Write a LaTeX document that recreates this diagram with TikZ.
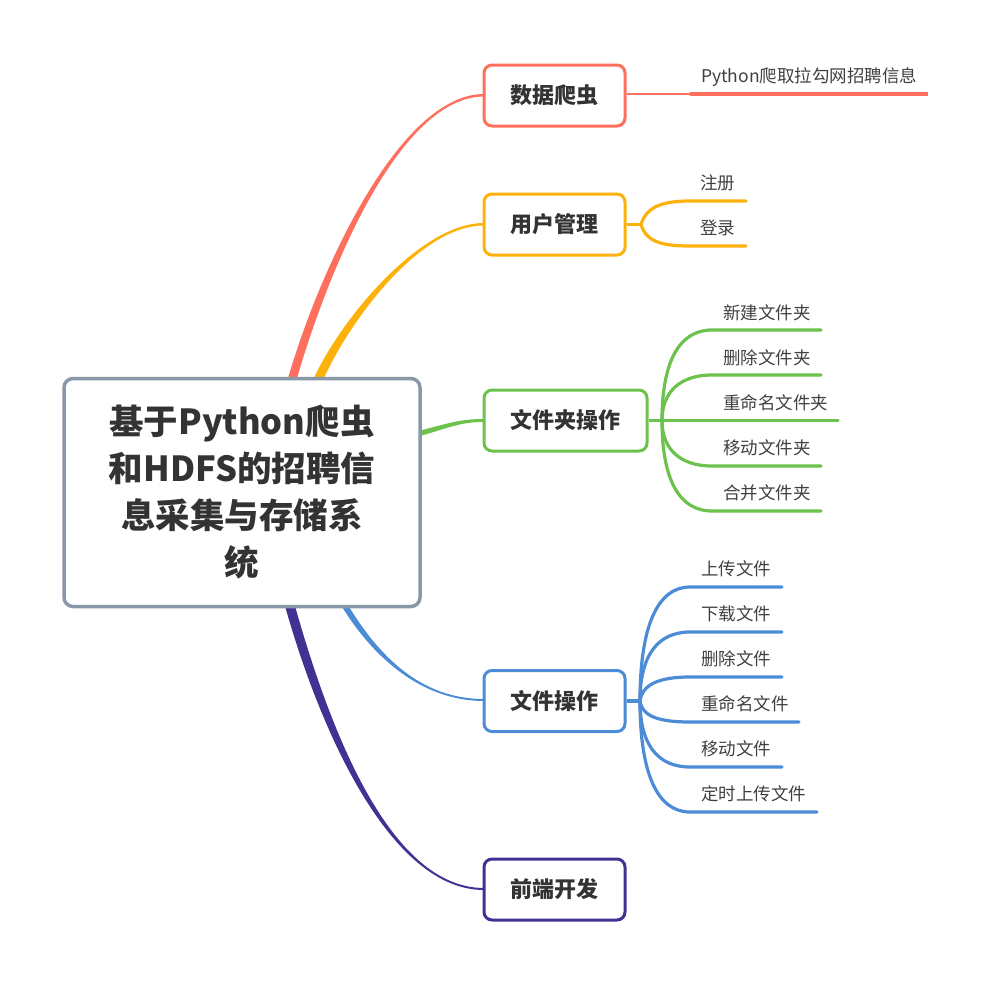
\documentclass[tikz,border=0pt]{standalone}
\usepackage{fontspec}
\setmainfont{Noto Sans CJK SC}
\definecolor{cred}{HTML}{FF6F5E}
\definecolor{corange}{HTML}{FDB20B}
\definecolor{cgreen}{HTML}{6CC24C}
\definecolor{cblue}{HTML}{4C8CD7}
\definecolor{cpurple}{HTML}{403292}
\definecolor{crootb}{HTML}{8A97A9}
\definecolor{ctext}{HTML}{333333}
\definecolor{cleaf}{HTML}{404040}
\begin{document}
\begin{tikzpicture}[x=1pt,y=-1pt,
  mainbox/.style={draw, line width=3pt, fill=white, rounded corners=8pt, minimum width=141pt, minimum height=61pt, inner sep=0pt, text=ctext, font=\fontsize{22}{26}\selectfont\bfseries},
  rootbox/.style={draw=crootb, line width=3.5pt, fill=white, rounded corners=9pt, minimum width=356pt, minimum height=228pt, inner sep=0pt, text=ctext, align=center, font=\fontsize{34.5}{47}\selectfont\bfseries},
  leaf/.style={anchor=west, inner sep=0pt, text=cleaf, font=\fontsize{17.5}{20}\selectfont},
  branch/.style={line width=3.2pt, line cap=round},
  stem/.style={line width=3.5pt}
]
\useasboundingbox (0,0) rectangle (991,983);

% ---- tapered main connectors (drawn under the boxes)
\fill[cred] (287.5,380) .. controls (319.5,269) and (400,94) .. (484,94) -- (484,96.5) .. controls (400,96.5) and (328.5,269) .. (296.5,380) -- cycle;
\fill[corange] (313,380) .. controls (340,320) and (420,223) .. (484,223) -- (484,225.5) .. controls (420,225.5) and (350,320) .. (323,380) -- cycle;
\fill[cgreen] (420,430.5) .. controls (450,423) and (460,419) .. (484,419) -- (484,422) .. controls (460,422) and (450,427.5) .. (420,436) -- cycle;
\fill[cblue] (341.5,606) .. controls (371.5,655) and (420,701) .. (484,701) -- (484,699) .. controls (420,699) and (378.5,655) .. (348.5,606) -- cycle;
\fill[cpurple] (285,606) .. controls (320,730) and (390,890) .. (484,890) -- (484,888) .. controls (390,888) and (330,730) .. (295,606) -- cycle;

% ---- root
\node[rootbox] (root) at (242,492.5) {基于Python爬虫\\和HDFS的招聘信\\息采集与存储系\\统};

% ---- main topics
\node[mainbox, draw=cred] (n1) at (554.5,95.5) {数据爬虫};
\node[mainbox, draw=corange] (n2) at (554.5,224.5) {用户管理};
\node[mainbox, draw=cgreen, minimum width=163pt] (n3) at (565.5,420.5) {文件夹操作};
\node[mainbox, draw=cblue] (n4) at (554.5,701) {文件操作};
\node[mainbox, draw=cpurple] (n5) at (554.5,889.5) {前端开发};

% ---- 数据爬虫 leaf
\coordinate (r0) at (690,93.5);
\coordinate (r1) at (928,93.5);
\draw[cred, line width=2pt] (n1.east |- r0) -- (r0);
\draw[cred, line width=4pt] (r0) -- (r1);
\node[leaf] (l11) at (701,77) {Python爬取拉勾网招聘信息};

% ---- 用户管理 leaves
\coordinate (of) at (641,224.5);
\coordinate (o1) at (690,201);
\coordinate (o2) at (690,246);
\draw[corange, stem] (n2.east) -- (of);
\draw[corange, branch] (of) .. controls (646,208) and (660,201) .. (o1) -- (746,201);
\draw[corange, branch] (of) .. controls (646,241) and (660,246) .. (o2) -- (746,246);
\node[leaf] (l21) at (700,183) {注册};
\node[leaf] (l22) at (700,228) {登录};

% ---- 文件夹操作 leaves
\coordinate (gf) at (662,420.5);
\draw[cgreen, stem] (n3.east) -- (gf);
\draw[cgreen, branch] (gf) .. controls (662,360) and (680,330) .. (712,330) -- (821,330);
\draw[cgreen, branch] (gf) .. controls (662,392) and (680,375) .. (712,375) -- (821,375);
\draw[cgreen, branch] (gf) -- (838,420.5);
\draw[cgreen, branch] (gf) .. controls (662,449) and (680,466) .. (712,466) -- (821,466);
\draw[cgreen, branch] (gf) .. controls (662,481) and (680,511) .. (712,511) -- (821,511);
\node[leaf] (l31) at (723,313) {新建文件夹};
\node[leaf] (l32) at (723,358) {删除文件夹};
\node[leaf] (l33) at (723,403) {重命名文件夹};
\node[leaf] (l34) at (723,448) {移动文件夹};
\node[leaf] (l35) at (723,493) {合并文件夹};

% ---- 文件操作 leaves
\coordinate (bf) at (640,701);
\draw[cblue, stem] (n4.east) -- (bf);
\draw[cblue, branch] (bf) .. controls (640,625) and (658,587) .. (690,587) -- (782,587);
\draw[cblue, branch] (bf) .. controls (640,655) and (658,632) .. (690,632) -- (782,632);
\draw[cblue, branch] (bf) .. controls (642,685) and (658,677) .. (690,677) -- (782,677);
\draw[cblue, branch] (bf) .. controls (642,716) and (658,722) .. (690,722) -- (799,722);
\draw[cblue, branch] (bf) .. controls (640,745) and (658,767) .. (690,767) -- (782,767);
\draw[cblue, branch] (bf) .. controls (640,775) and (658,812) .. (690,812) -- (817,812);
\node[leaf] (l41) at (701,569) {上传文件};
\node[leaf] (l42) at (701,614) {下载文件};
\node[leaf] (l43) at (701,659) {删除文件};
\node[leaf] (l44) at (701,704) {重命名文件};
\node[leaf] (l45) at (701,749) {移动文件};
\node[leaf] (l46) at (701,794) {定时上传文件};
\end{tikzpicture}
\end{document}
